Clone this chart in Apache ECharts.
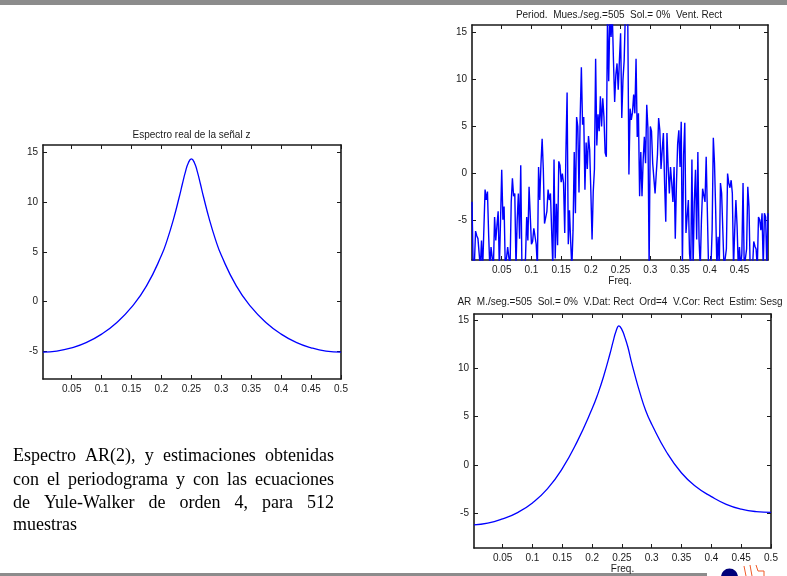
<!DOCTYPE html>
<html><head><meta charset="utf-8">
<script src="https://cdn.jsdelivr.net/npm/echarts@6/dist/echarts.min.js"></script>
<style>html,body{margin:0;padding:0;background:#fff;}#c{width:787px;height:576px;}</style>
</head><body><div id="c"></div>
<script>
// ---------- data ----------
const xTickLabels = [0.05, 0.1, 0.15, 0.2, 0.25, 0.3, 0.35, 0.4, 0.45, 0.5];
const xTickLabelsPeriod = [0.05, 0.1, 0.15, 0.2, 0.25, 0.3, 0.35, 0.4, 0.45];
const yTickLabels = [-5, 0, 5, 10, 15];

const titleReal = 'Espectro real de la señal z';
const titlePeriod = 'Period.  Mues./seg.=505  Sol.= 0%  Vent. Rect';
const titleAR = 'AR  M./seg.=505  Sol.= 0%  V.Dat: Rect  Ord=4  V.Cor: Rect  Estim: Sesg';
const freqLabel = 'Freq.';
const captionLines = [
  'Espectro AR(2), y estimaciones obtenidas',
  'con el periodograma y con las ecuaciones',
  'de Yule-Walker de orden 4, para 512',
  'muestras'
];

// true spectrum (left panel)
const realFreq = [0.002, 0.025, 0.05, 0.075, 0.1, 0.125, 0.15, 0.175, 0.2, 0.21, 0.22, 0.23, 0.235, 0.24, 0.245, 0.25, 0.255, 0.26, 0.265, 0.27, 0.28, 0.29, 0.3, 0.325, 0.35, 0.375, 0.4, 0.425, 0.45, 0.475, 0.5];
const realDb = [-5.10, -5.00, -4.67, -4.12, -3.29, -2.14, -0.58, 1.57, 4.65, 6.29, 8.28, 10.61, 11.87, 13.07, 14.0, 14.38, 14.0, 13.07, 11.87, 10.61, 8.28, 6.29, 4.65, 1.57, -0.58, -2.14, -3.29, -4.12, -4.67, -5.00, -5.10];

// periodogram (top right), frequency grid step 0.002 starting at 0
const periodStep = 0.002;
const periodDb = [
  -3.0, -10, -9.6, -6.1, -6.6, -6.9, -7.1, -10, -7.1, -10,
  -10, -1.7, -2.8, -1.9, -6.5, -10, -7.8, -7.6, -10, -4.6,
  -7.1, -5.5, -4.0, -10, -5.0, 0.4, -4.9, -3.5, -10, -9.0,
  -7.8, -7.8, -10, -3.0, -0.5, -2.4, -2.1, -10, -5.0, -2.1,
  -6.9, 0.9, -10, -10, -10, -9.0, -4.6, -7.1, -1.4, -1.6,
  -7.5, -7.2, -5.8, -6.0, -7.5, -10, 0.7, -2.8, 1.0, 3.7,
  0.4, -5.3, -5.4, -4.0, -1.7, -2.8, -2.1, -2.1, -10, 1.5,
  -9.0, -3.2, -7.6, 1.3, 0.9, -0.9, 0.0, -1.0, -6.3, 2.3,
  8.6, -7.5, -3.9, -7.2, -10, -6.0, 2.3, -4.2, 6.0, 5.0,
  -2.0, 6.0, 11.3, 5.2, 6.0, -1.7, 3.3, 0.5, 4.0, 2.5,
  -2.0, -7.0, -1.9, 0.5, 12.2, 3.0, 6.3, 4.5, 8.2, 5.0,
  8.0, 6.0, 2.2, 1.8, 17, 9.8, 17, 14.5, 17, 12.0,
  7.6, 10.5, 11.7, 8.9, 12.0, 14.9, 5.9, 10.0, 12.0, 17,
  17, 17, -0.1, 6.9, 5.7, 6.5, 8.4, 6.4, 12.2, 3.9,
  6.4, -2.4, 2.3, -2.4, 1.5, 3.9, 1.1, 7.3, 4.8, -10,
  5.0, 4.5, 1.1, -0.5, -2.1, 0.0, 2.0, 5.9, 4.6, 0.5,
  2.5, 4.3, -1.0, -5.1, 4.3, 0.7, -2.1, 0.7, -1.0, -3.0,
  0.7, -6.9, -1.0, 3.2, 4.6, 0.7, 5.5, -10, 2.0, 5.4,
  -6.3, -6.5, -2.8, -8.5, -10, 1.5, -10, -3.0, 0.4, -7.0,
  2.3, -7.0, -10, -5.0, -1.6, -1.4, -3.0, 1.8, 2.0, -10,
  -10, -10, -6.0, 3.8, 1.1, -4.0, -10, -6.7, -10, -1.0,
  -2.1, -2.1, -10, -10, -8.0, 0.0, -1.0, -1.5, -0.7, -2.1,
  -10, -6.0, -2.8, -5.6, -10, -7.8, -10, -8.5, -1.0, -10,
  -10, -8.0, -1.4, -3.5, -10, -10, -10, -7.2, -7.7, -8.0,
  -10, -4.6, -4.9, -6.0, -4.2, -10, -4.2, -4.6, -10, -4.2
];

// AR(4) estimate (bottom right)
const arFreq = [0.002, 0.025, 0.05, 0.075, 0.1, 0.125, 0.15, 0.175, 0.2, 0.21, 0.22, 0.23, 0.235, 0.24, 0.245, 0.25, 0.255, 0.26, 0.265, 0.27, 0.28, 0.29, 0.3, 0.325, 0.35, 0.375, 0.4, 0.425, 0.45, 0.475, 0.5];
const arDb = [-6.22, -6.05, -5.6, -4.95, -3.95, -2.5, -0.4, 2.4, 5.8, 7.4, 9.3, 11.5, 12.7, 13.8, 14.4, 14.0, 13.2, 12.2, 10.9, 9.7, 7.5, 5.6, 4.2, 1.3, -0.85, -2.3, -3.3, -4.1, -4.6, -4.85, -4.92];

// ---------- chart ----------
const FONT = '"Liberation Sans", Arial, Helvetica, sans-serif';
const SERIF = '"Liberation Serif", "Times New Roman", serif';
const TXT = '#1a1a1a';
const BLUE = '#0000ff';

const chart = echarts.init(document.getElementById('c'), null, {renderer: 'canvas', width: 787, height: 576});

const panels = [
  {grid: {left: 43, top: 145, width: 298, height: 234}, x: [0.002, 0.5], y: [-7.82, 15.78], xt: xTickLabels, name: ''},
  {grid: {left: 472, top: 25, width: 296, height: 235}, x: [0, 0.498], y: [-9.17, 15.78], xt: xTickLabelsPeriod, name: freqLabel},
  {grid: {left: 474, top: 314, width: 297, height: 234}, x: [0.002, 0.5], y: [-8.62, 15.62], xt: xTickLabels, name: freqLabel}
];

const grids = [], xAxes = [], yAxes = [];
const frameStyle = {color: '#1a1a1a', width: 1.6};
const tickStyle = {color: '#1a1a1a', width: 1};
panels.forEach((p, i) => {
  grids.push(Object.assign({outerBoundsMode: 'none', containLabel: false}, p.grid));
  xAxes.push({
    type: 'value', gridIndex: i, position: 'bottom', min: p.x[0], max: p.x[1],
    axisLine: {show: true, onZero: false, lineStyle: frameStyle},
    axisTick: {show: true, inside: true, length: 4, customValues: p.xt, lineStyle: tickStyle},
    axisLabel: {show: true, customValues: p.xt, margin: 5, color: TXT, fontSize: 10, fontFamily: FONT, hideOverlap: false,
      formatter: v => String(v)},
    splitLine: {show: false},
    name: p.name, nameLocation: 'middle', nameGap: 16,
    nameTextStyle: {color: TXT, fontSize: 10, fontFamily: FONT}
  });
  xAxes.push({
    type: 'value', gridIndex: i, position: 'top', min: p.x[0], max: p.x[1],
    axisLine: {show: true, onZero: false, lineStyle: frameStyle},
    axisTick: {show: true, inside: true, length: 4, customValues: p.xt, lineStyle: tickStyle},
    axisLabel: {show: false}, splitLine: {show: false}
  });
  yAxes.push({
    type: 'value', gridIndex: i, position: 'left', min: p.y[0], max: p.y[1],
    axisLine: {show: true, onZero: false, lineStyle: frameStyle},
    axisTick: {show: true, inside: true, length: 4, customValues: yTickLabels, lineStyle: tickStyle},
    axisLabel: {show: true, customValues: yTickLabels, margin: 5, color: TXT, fontSize: 10, fontFamily: FONT, hideOverlap: false},
    splitLine: {show: false}
  });
  yAxes.push({
    type: 'value', gridIndex: i, position: 'right', min: p.y[0], max: p.y[1],
    axisLine: {show: true, onZero: false, lineStyle: frameStyle},
    axisTick: {show: true, inside: true, length: 4, customValues: yTickLabels, lineStyle: tickStyle},
    axisLabel: {show: false}, splitLine: {show: false}
  });
});

const realData = realFreq.map((f, k) => [f, realDb[k]]);
const periodData = periodDb.map((v, k) => [k * periodStep, v]);
const arData = arFreq.map((f, k) => [f, arDb[k]]);

const series = [
  {type: 'line', xAxisIndex: 0, yAxisIndex: 0, data: realData, smooth: 0.5, symbol: 'none', clip: true,
    lineStyle: {color: BLUE, width: 1.3}, silent: true, animation: false},
  {type: 'line', xAxisIndex: 2, yAxisIndex: 2, data: periodData, smooth: false, symbol: 'none', clip: true,
    lineStyle: {color: BLUE, width: 1.4}, silent: true, animation: false},
  {type: 'line', xAxisIndex: 4, yAxisIndex: 4, data: arData, smooth: 0.5, symbol: 'none', clip: true,
    lineStyle: {color: BLUE, width: 1.3}, silent: true, animation: false}
];

// caption paragraph, justified
const graphics = [];
const capFont = '18px ' + SERIF;
const measureCtx = document.createElement('canvas').getContext('2d');
measureCtx.font = capFont;
const capLeft = 13, capRight = 334;
const capY = [456.6, 479.9, 503.2, 525.6];
captionLines.forEach((line, li) => {
  const words = line.split(' ');
  const justify = li < captionLines.length - 1 && words.length > 1;
  if (!justify) {
    graphics.push({type: 'text', x: capLeft, y: capY[li], silent: true,
      style: {text: line, font: capFont, fill: '#000', align: 'left', verticalAlign: 'middle'}});
    return;
  }
  const widths = words.map(w => measureCtx.measureText(w).width);
  const total = widths.reduce((a, b) => a + b, 0);
  const gap = (capRight - capLeft - total) / (words.length - 1);
  let x = capLeft;
  words.forEach((w, wi) => {
    graphics.push({type: 'text', x: x, y: capY[li], silent: true,
      style: {text: w, font: capFont, fill: '#000', align: 'left', verticalAlign: 'middle'}});
    x += widths[wi] + gap;
  });
});

// titles
[[titleReal, 191.5, 135], [titlePeriod, 619, 15], [titleAR, 620, 302.5]].forEach(t => {
  graphics.push({type: 'text', x: t[1], y: t[2], silent: true,
    style: {text: t[0], font: '10px ' + FONT, fill: TXT, align: 'center', verticalAlign: 'middle'}});
});

// page rules and logo
graphics.push({type: 'rect', shape: {x: 0, y: 0, width: 787, height: 5}, style: {fill: '#8c8c8c'}, silent: true});
graphics.push({type: 'rect', shape: {x: 0, y: 573, width: 707, height: 3}, style: {fill: '#8c8c8c'}, silent: true});
graphics.push({type: 'circle', shape: {cx: 729.5, cy: 577, r: 8.5}, style: {fill: '#00007a'}, silent: true});
[[744, 566, 746, 576], [750, 565, 752, 576], [756, 565, 758, 571]].forEach(s => {
  graphics.push({type: 'line', shape: {x1: s[0], y1: s[1], x2: s[2], y2: s[3]},
    style: {stroke: '#f05a28', lineWidth: 1}, silent: true});
});
graphics.push({type: 'polyline', shape: {points: [[758, 571], [764, 571], [764, 576]]},
  style: {stroke: '#f05a28', lineWidth: 1, fill: null}, silent: true});

chart.setOption({
  animation: false,
  backgroundColor: '#fff',
  grid: grids,
  xAxis: xAxes,
  yAxis: yAxes,
  series: series,
  graphic: {elements: graphics}
});
</script>
</body></html>
